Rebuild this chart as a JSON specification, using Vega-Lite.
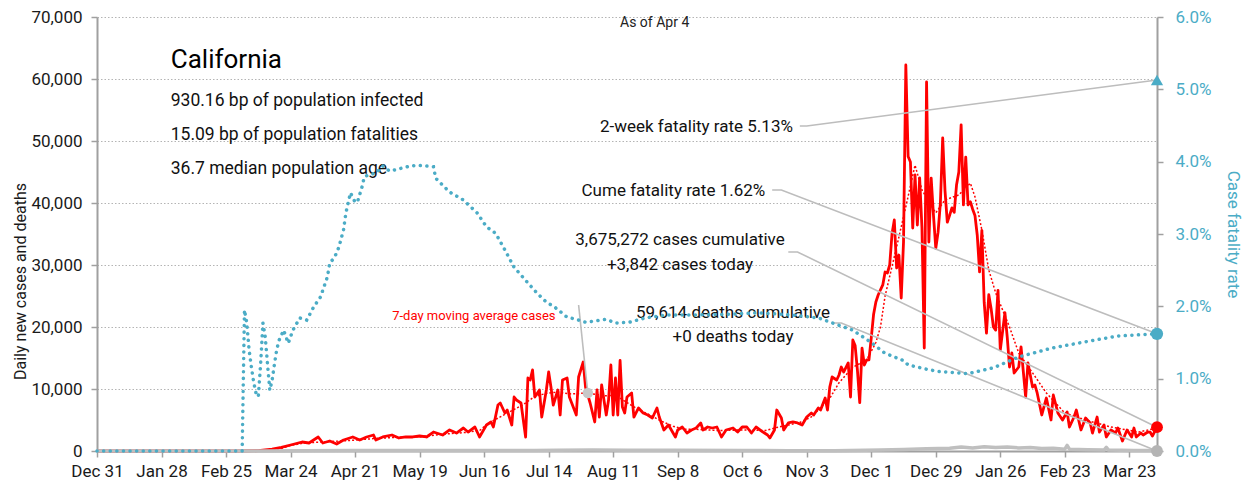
{
"$schema": "https://vega.github.io/schema/vega-lite/v6.json",
"width": 1060,
"height": 434,
"autosize": {"type": "none"},
"padding": {"left": 97, "top": 17, "right": 87, "bottom": 40},
"background": "white",
"config": {
  "view": {"stroke": null},
  "font": "Roboto, Liberation Sans, sans-serif",
  "axis": {"labelFont": "Roboto, Liberation Sans, sans-serif", "titleFont": "Roboto, Liberation Sans, sans-serif", "labelFontSize": 17, "titleFontSize": 16, "titleFontWeight": "normal", "labelColor": "#1a1a1a", "titleColor": "#1a1a1a", "domainColor": "#a0a0a0", "tickColor": "#a0a0a0", "domainWidth": 2, "tickWidth": 1.5, "tickSize": 6, "labelOverlap": false, "labelFlush": false},
  "axisBottom": {"grid": false, "labelPadding": 6},
  "axisLeft": {"grid": true, "gridColor": "#b4b4b4", "gridDash": [1.5, 2], "gridWidth": 1, "labelPadding": 9},
  "axisRight": {"grid": false, "labelColor": "#4BACC6", "titleColor": "#4BACC6", "labelPadding": 12, "titleFontSize": 17}
},
"datasets": {
  "cases": [
    {"date":"2019-12-31","value":0},{"date":"2020-01-20","value":0},{"date":"2020-02-09","value":0},{"date":"2020-02-29","value":0},
    {"date":"2020-03-10","value":50},{"date":"2020-03-16","value":300},{"date":"2020-03-20","value":600},{"date":"2020-03-24","value":970},
    {"date":"2020-03-29","value":1450},{"date":"2020-04-01","value":1290},{"date":"2020-04-05","value":2260},{"date":"2020-04-07","value":1290},
    {"date":"2020-04-10","value":1610},{"date":"2020-04-13","value":1130},{"date":"2020-04-16","value":1770},{"date":"2020-04-20","value":2260},
    {"date":"2020-04-23","value":1770},{"date":"2020-04-26","value":2260},{"date":"2020-04-29","value":2580},{"date":"2020-04-30","value":1770},
    {"date":"2020-05-03","value":2260},{"date":"2020-05-07","value":2580},{"date":"2020-05-10","value":2100},{"date":"2020-05-13","value":2260},
    {"date":"2020-05-16","value":2260},{"date":"2020-05-19","value":2420},{"date":"2020-05-22","value":2260},{"date":"2020-05-25","value":3060},
    {"date":"2020-05-29","value":2580},{"date":"2020-06-01","value":3390},{"date":"2020-06-04","value":2900},{"date":"2020-06-07","value":3710},
    {"date":"2020-06-09","value":3060},{"date":"2020-06-12","value":3870},{"date":"2020-06-14","value":2260},{"date":"2020-06-17","value":4190},
    {"date":"2020-06-19","value":4680},{"date":"2020-06-20","value":3870},{"date":"2020-06-22","value":7420},{"date":"2020-06-23","value":7740},
    {"date":"2020-06-25","value":6130},{"date":"2020-06-26","value":6610},{"date":"2020-06-28","value":4190},{"date":"2020-06-29","value":8710},
    {"date":"2020-06-30","value":8230},{"date":"2020-07-02","value":7740},{"date":"2020-07-04","value":2260},{"date":"2020-07-05","value":11780},
    {"date":"2020-07-06","value":11450},{"date":"2020-07-07","value":13070},{"date":"2020-07-08","value":8710},{"date":"2020-07-10","value":9840},
    {"date":"2020-07-11","value":5480},{"date":"2020-07-13","value":9840},{"date":"2020-07-14","value":12740},{"date":"2020-07-15","value":10320},
    {"date":"2020-07-16","value":7420},{"date":"2020-07-18","value":9840},{"date":"2020-07-19","value":5810},{"date":"2020-07-20","value":11450},
    {"date":"2020-07-22","value":11780},{"date":"2020-07-23","value":8710},{"date":"2020-07-24","value":7740},{"date":"2020-07-26","value":5810},
    {"date":"2020-07-27","value":11940},{"date":"2020-07-29","value":14360},{"date":"2020-07-30","value":10320},{"date":"2020-08-01","value":7740},
    {"date":"2020-08-03","value":4680},{"date":"2020-08-04","value":9840},{"date":"2020-08-05","value":5480},{"date":"2020-08-06","value":10650},
    {"date":"2020-08-08","value":5810},{"date":"2020-08-09","value":8230},{"date":"2020-08-10","value":13870},{"date":"2020-08-11","value":5810},
    {"date":"2020-08-12","value":11780},{"date":"2020-08-13","value":5810},{"date":"2020-08-14","value":14600},{"date":"2020-08-15","value":7100},
    {"date":"2020-08-16","value":6130},{"date":"2020-08-17","value":8710},{"date":"2020-08-19","value":9360},{"date":"2020-08-20","value":5480},
    {"date":"2020-08-22","value":6940},{"date":"2020-08-24","value":6130},{"date":"2020-08-26","value":5810},{"date":"2020-08-28","value":5320},
    {"date":"2020-08-30","value":6940},{"date":"2020-08-31","value":5480},{"date":"2020-09-02","value":3390},{"date":"2020-09-04","value":4190},
    {"date":"2020-09-07","value":2260},{"date":"2020-09-08","value":3390},{"date":"2020-09-10","value":3870},{"date":"2020-09-12","value":2900},
    {"date":"2020-09-14","value":3390},{"date":"2020-09-16","value":3710},{"date":"2020-09-18","value":4520},{"date":"2020-09-19","value":3390},
    {"date":"2020-09-21","value":3870},{"date":"2020-09-23","value":3710},{"date":"2020-09-25","value":3870},{"date":"2020-09-27","value":2260},
    {"date":"2020-09-29","value":3390},{"date":"2020-10-02","value":3710},{"date":"2020-10-04","value":3060},{"date":"2020-10-06","value":3870},
    {"date":"2020-10-08","value":3870},{"date":"2020-10-10","value":2900},{"date":"2020-10-12","value":3870},{"date":"2020-10-15","value":3060},
    {"date":"2020-10-17","value":2580},{"date":"2020-10-18","value":2100},{"date":"2020-10-20","value":3390},{"date":"2020-10-21","value":6610},
    {"date":"2020-10-23","value":5320},{"date":"2020-10-24","value":3390},{"date":"2020-10-26","value":4520},{"date":"2020-10-28","value":4680},
    {"date":"2020-10-30","value":4520},{"date":"2020-11-01","value":4190},{"date":"2020-11-03","value":5480},{"date":"2020-11-05","value":6130},
    {"date":"2020-11-06","value":5810},{"date":"2020-11-08","value":6940},{"date":"2020-11-09","value":6610},{"date":"2020-11-11","value":8550},
    {"date":"2020-11-12","value":6610},{"date":"2020-11-13","value":10320},{"date":"2020-11-14","value":11940},{"date":"2020-11-16","value":11450},
    {"date":"2020-11-17","value":12260},{"date":"2020-11-18","value":13550},{"date":"2020-11-19","value":12740},{"date":"2020-11-21","value":14200},
    {"date":"2020-11-22","value":8710},{"date":"2020-11-23","value":17900},{"date":"2020-11-24","value":17000},{"date":"2020-11-25","value":13000},
    {"date":"2020-11-26","value":7800},{"date":"2020-11-27","value":16600},{"date":"2020-11-28","value":13870},{"date":"2020-11-29","value":14680},
    {"date":"2020-11-30","value":14700},{"date":"2020-12-01","value":18230},{"date":"2020-12-02","value":22000},{"date":"2020-12-03","value":24040},
    {"date":"2020-12-04","value":25160},{"date":"2020-12-05","value":26000},{"date":"2020-12-06","value":26780},{"date":"2020-12-07","value":28870},
    {"date":"2020-12-08","value":28710},{"date":"2020-12-09","value":30000},{"date":"2020-12-10","value":35000},{"date":"2020-12-11","value":37260},
    {"date":"2020-12-12","value":29520},{"date":"2020-12-13","value":31610},{"date":"2020-12-14","value":24680},{"date":"2020-12-15","value":33710},
    {"date":"2020-12-16","value":62260},{"date":"2020-12-17","value":47500},{"date":"2020-12-18","value":46620},{"date":"2020-12-19","value":35970},
    {"date":"2020-12-20","value":44520},{"date":"2020-12-21","value":36450},{"date":"2020-12-22","value":44040},{"date":"2020-12-23","value":36000},
    {"date":"2020-12-24","value":16610},{"date":"2020-12-25","value":59520},{"date":"2020-12-26","value":33700},{"date":"2020-12-27","value":44000},
    {"date":"2020-12-28","value":38000},{"date":"2020-12-29","value":32700},{"date":"2020-12-30","value":35300},{"date":"2020-12-31","value":40000},
    {"date":"2021-01-01","value":50500},{"date":"2021-01-02","value":42000},{"date":"2021-01-03","value":36900},{"date":"2021-01-04","value":38000},
    {"date":"2021-01-05","value":39200},{"date":"2021-01-06","value":38500},{"date":"2021-01-07","value":42900},{"date":"2021-01-08","value":45000},
    {"date":"2021-01-09","value":52600},{"date":"2021-01-10","value":39700},{"date":"2021-01-11","value":47400},{"date":"2021-01-12","value":39700},
    {"date":"2021-01-13","value":40200},{"date":"2021-01-14","value":39000},{"date":"2021-01-15","value":38000},{"date":"2021-01-16","value":34800},
    {"date":"2021-01-17","value":28900},{"date":"2021-01-18","value":35600},{"date":"2021-01-19","value":24000},{"date":"2021-01-20","value":19000},
    {"date":"2021-01-21","value":25200},{"date":"2021-01-22","value":23000},{"date":"2021-01-23","value":20000},{"date":"2021-01-24","value":19500},
    {"date":"2021-01-25","value":25900},{"date":"2021-01-26","value":16300},{"date":"2021-01-28","value":22300},{"date":"2021-01-29","value":18400},
    {"date":"2021-01-30","value":13550},{"date":"2021-01-31","value":15810},{"date":"2021-02-01","value":12580},{"date":"2021-02-03","value":13550},
    {"date":"2021-02-04","value":16780},{"date":"2021-02-06","value":8710},{"date":"2021-02-07","value":14200},{"date":"2021-02-09","value":10320},
    {"date":"2021-02-10","value":10650},{"date":"2021-02-11","value":9360},{"date":"2021-02-13","value":5810},{"date":"2021-02-15","value":8550},
    {"date":"2021-02-17","value":5000},{"date":"2021-02-18","value":9030},{"date":"2021-02-20","value":6130},{"date":"2021-02-22","value":5000},
    {"date":"2021-02-24","value":6290},{"date":"2021-02-25","value":3870},{"date":"2021-02-27","value":5480},{"date":"2021-02-28","value":6610},
    {"date":"2021-03-02","value":3390},{"date":"2021-03-04","value":5320},{"date":"2021-03-06","value":4520},{"date":"2021-03-07","value":2900},
    {"date":"2021-03-09","value":5480},{"date":"2021-03-10","value":3060},{"date":"2021-03-12","value":4190},{"date":"2021-03-13","value":2260},
    {"date":"2021-03-15","value":3390},{"date":"2021-03-17","value":2900},{"date":"2021-03-18","value":3710},{"date":"2021-03-20","value":1610},
    {"date":"2021-03-22","value":3390},{"date":"2021-03-24","value":2260},{"date":"2021-03-25","value":3710},{"date":"2021-03-26","value":2260},
    {"date":"2021-03-28","value":2900},{"date":"2021-03-29","value":2580},{"date":"2021-03-31","value":3060},{"date":"2021-04-01","value":3060},
    {"date":"2021-04-02","value":2400},{"date":"2021-04-04","value":3842}
  ],
  "ma": [
    {"date":"2019-12-31","value":0},{"date":"2020-02-29","value":0},{"date":"2020-03-10","value":20},{"date":"2020-03-20","value":400},
    {"date":"2020-03-24","value":900},{"date":"2020-03-30","value":1300},{"date":"2020-04-09","value":1500},{"date":"2020-04-19","value":1700},
    {"date":"2020-04-29","value":2000},{"date":"2020-05-09","value":2200},{"date":"2020-05-19","value":2300},{"date":"2020-05-29","value":2700},
    {"date":"2020-06-08","value":3000},{"date":"2020-06-14","value":3300},{"date":"2020-06-18","value":4500},{"date":"2020-06-23","value":5500},
    {"date":"2020-06-28","value":6500},{"date":"2020-07-03","value":7500},{"date":"2020-07-08","value":8800},{"date":"2020-07-13","value":9300},
    {"date":"2020-07-18","value":9500},{"date":"2020-07-23","value":9200},{"date":"2020-07-31","value":9355},{"date":"2020-08-07","value":8900},
    {"date":"2020-08-12","value":9000},{"date":"2020-08-17","value":7800},{"date":"2020-08-22","value":6700},{"date":"2020-08-27","value":5800},
    {"date":"2020-09-01","value":4800},{"date":"2020-09-06","value":4000},{"date":"2020-09-11","value":3500},{"date":"2020-09-16","value":3500},
    {"date":"2020-09-26","value":3300},{"date":"2020-10-06","value":3400},{"date":"2020-10-16","value":3300},{"date":"2020-10-21","value":3800},
    {"date":"2020-10-26","value":4200},{"date":"2020-10-31","value":4600},{"date":"2020-11-05","value":5500},{"date":"2020-11-08","value":6600},
    {"date":"2020-11-13","value":8500},{"date":"2020-11-17","value":11000},{"date":"2020-11-23","value":13500},{"date":"2020-11-29","value":14700},
    {"date":"2020-12-03","value":17500},{"date":"2020-12-05","value":20000},{"date":"2020-12-07","value":25000},{"date":"2020-12-12","value":32900},
    {"date":"2020-12-16","value":39400},{"date":"2020-12-20","value":46100},{"date":"2020-12-23","value":42100},{"date":"2020-12-29","value":38400},
    {"date":"2021-01-02","value":40500},{"date":"2021-01-08","value":41300},{"date":"2021-01-13","value":43200},{"date":"2021-01-15","value":41000},
    {"date":"2021-01-18","value":35650},{"date":"2021-01-21","value":29200},{"date":"2021-01-24","value":25500},{"date":"2021-01-30","value":20000},
    {"date":"2021-02-03","value":15800},{"date":"2021-02-09","value":12600},{"date":"2021-02-15","value":9360},{"date":"2021-02-23","value":6130},
    {"date":"2021-03-04","value":5000},{"date":"2021-03-15","value":3870},{"date":"2021-03-27","value":3060},{"date":"2021-04-04","value":3700}
  ],
  "deaths": [
    {"date":"2019-12-31","value":0},{"date":"2020-02-29","value":0},{"date":"2020-03-15","value":20},{"date":"2020-03-30","value":60},
    {"date":"2020-04-19","value":90},{"date":"2020-05-19","value":80},{"date":"2020-06-18","value":70},{"date":"2020-07-08","value":100},
    {"date":"2020-07-18","value":130},{"date":"2020-08-02","value":150},{"date":"2020-08-17","value":130},{"date":"2020-09-06","value":110},
    {"date":"2020-10-06","value":70},{"date":"2020-10-26","value":50},{"date":"2020-11-15","value":60},{"date":"2020-12-05","value":150},
    {"date":"2020-12-15","value":250},{"date":"2020-12-25","value":350},{"date":"2021-01-04","value":450},{"date":"2021-01-09","value":650},
    {"date":"2021-01-14","value":500},{"date":"2021-01-19","value":700},{"date":"2021-01-24","value":550},{"date":"2021-01-29","value":650},
    {"date":"2021-02-03","value":500},{"date":"2021-02-08","value":550},{"date":"2021-02-13","value":400},{"date":"2021-02-18","value":450},
    {"date":"2021-02-23","value":300},{"date":"2021-02-24","value":900},{"date":"2021-02-25","value":300},{"date":"2021-03-05","value":200},
    {"date":"2021-03-12","value":150},{"date":"2021-03-13","value":600},{"date":"2021-03-14","value":150},{"date":"2021-03-25","value":100},
    {"date":"2021-04-03","value":80},{"date":"2021-04-04","value":0}
  ],
  "cfr": [
    {"date":"2019-12-31","rate":0},{"date":"2020-03-03","rate":0},{"date":"2020-03-04","rate":0.0195},{"date":"2020-03-05","rate":0.0177},
    {"date":"2020-03-06","rate":0.0140},{"date":"2020-03-07","rate":0.0116},{"date":"2020-03-08","rate":0.0095},{"date":"2020-03-09","rate":0.0080},
    {"date":"2020-03-10","rate":0.0075},{"date":"2020-03-11","rate":0.0120},{"date":"2020-03-12","rate":0.0177},{"date":"2020-03-13","rate":0.0158},
    {"date":"2020-03-14","rate":0.0120},{"date":"2020-03-15","rate":0.0084},{"date":"2020-03-16","rate":0.0098},{"date":"2020-03-17","rate":0.0120},
    {"date":"2020-03-18","rate":0.0140},{"date":"2020-03-19","rate":0.0153},{"date":"2020-03-21","rate":0.0167},{"date":"2020-03-23","rate":0.0149},
    {"date":"2020-03-25","rate":0.0167},{"date":"2020-03-28","rate":0.0184},{"date":"2020-03-31","rate":0.0181},{"date":"2020-04-03","rate":0.0199},
    {"date":"2020-04-06","rate":0.0213},{"date":"2020-04-09","rate":0.0241},{"date":"2020-04-10","rate":0.0260},{"date":"2020-04-12","rate":0.0267},
    {"date":"2020-04-14","rate":0.0282},{"date":"2020-04-16","rate":0.0306},{"date":"2020-04-17","rate":0.0329},{"date":"2020-04-19","rate":0.0357},
    {"date":"2020-04-21","rate":0.0344},{"date":"2020-04-22","rate":0.0344},{"date":"2020-04-24","rate":0.0365},{"date":"2020-04-25","rate":0.0379},
    {"date":"2020-04-27","rate":0.0382},{"date":"2020-04-30","rate":0.0384},{"date":"2020-05-03","rate":0.0394},{"date":"2020-05-06","rate":0.0387},
    {"date":"2020-05-10","rate":0.0390},{"date":"2020-05-15","rate":0.0394},{"date":"2020-05-18","rate":0.0395},{"date":"2020-05-22","rate":0.0394},
    {"date":"2020-05-25","rate":0.0393},{"date":"2020-05-26","rate":0.0377},{"date":"2020-06-01","rate":0.0358},{"date":"2020-06-07","rate":0.0347},
    {"date":"2020-06-13","rate":0.0329},{"date":"2020-06-17","rate":0.0310},{"date":"2020-06-21","rate":0.0301},{"date":"2020-06-25","rate":0.0278},
    {"date":"2020-06-29","rate":0.0254},{"date":"2020-07-04","rate":0.0236},{"date":"2020-07-09","rate":0.0218},{"date":"2020-07-13","rate":0.0206},
    {"date":"2020-07-17","rate":0.0198},{"date":"2020-07-22","rate":0.0185},{"date":"2020-07-26","rate":0.0182},{"date":"2020-07-30","rate":0.0178},
    {"date":"2020-08-08","rate":0.0182},{"date":"2020-08-12","rate":0.0177},{"date":"2020-08-18","rate":0.0178},{"date":"2020-08-25","rate":0.0184},
    {"date":"2020-09-03","rate":0.0188},{"date":"2020-09-14","rate":0.0188},{"date":"2020-09-29","rate":0.0189},{"date":"2020-10-13","rate":0.0191},
    {"date":"2020-10-28","rate":0.0188},{"date":"2020-11-08","rate":0.0184},{"date":"2020-11-15","rate":0.0176},{"date":"2020-11-23","rate":0.0167},
    {"date":"2020-12-01","rate":0.0150},{"date":"2020-12-07","rate":0.0135},{"date":"2020-12-15","rate":0.0125},{"date":"2020-12-17","rate":0.0119},
    {"date":"2020-12-25","rate":0.0113},{"date":"2020-12-30","rate":0.0110},{"date":"2021-01-12","rate":0.0107},{"date":"2021-01-23","rate":0.0115},
    {"date":"2021-02-03","rate":0.0130},{"date":"2021-02-17","rate":0.0142},{"date":"2021-03-04","rate":0.0151},{"date":"2021-03-18","rate":0.0159},
    {"date":"2021-04-04","rate":0.0162}
  ],
  "leaders": [
    {"g":"fr2w","date":"2020-10-31","value":52420},{"g":"fr2w","date":"2020-11-03","value":52420},{"g":"fr2w","date":"2021-04-04","value":59850},
    {"g":"cume","date":"2020-10-19","value":42100},{"g":"cume","date":"2020-10-23","value":42100},{"g":"cume","date":"2021-04-04","value":18900},
    {"g":"cases","date":"2020-10-26","value":32100},{"g":"cases","date":"2020-10-30","value":32100},{"g":"cases","date":"2021-04-04","value":3842},
    {"g":"deaths","date":"2020-11-14","value":20650},{"g":"deaths","date":"2020-11-18","value":20650},{"g":"deaths","date":"2021-04-04","value":0},
    {"g":"ma","date":"2020-07-27","value":23550},{"g":"ma","date":"2020-07-31","value":9355}
  ],
  "notes": [
    {"kind":"title","date":"2020-02-01","value":63070,"text":"California"},
    {"kind":"stat","date":"2020-02-01","value":56460,"text":"930.16 bp of population infected"},
    {"kind":"stat","date":"2020-02-01","value":50970,"text":"15.09 bp of population fatalities"},
    {"kind":"stat","date":"2020-02-01","value":45490,"text":"36.7 median population age"},
    {"kind":"asof","date":"2020-08-29","value":69040,"text":"As of Apr 4"},
    {"kind":"right","date":"2020-10-28","value":52260,"text":"2-week fatality rate 5.13%"},
    {"kind":"right","date":"2020-10-16","value":41940,"text":"Cume fatality rate 1.62%"},
    {"kind":"center","date":"2020-09-09","value":34030,"text":"3,675,272 cases cumulative"},
    {"kind":"center","date":"2020-09-09","value":30000,"text":"+3,842 cases today"},
    {"kind":"center","date":"2020-10-02","value":22260,"text":"59,614 deaths cumulative"},
    {"kind":"center","date":"2020-10-02","value":18390,"text":"+0 deaths today"},
    {"kind":"ma","date":"2020-07-17","value":21780,"text":"7-day moving average cases"}
  ],
  "endCases": [{"date":"2021-04-04","value":3842}],
  "endDeaths": [{"date":"2021-04-04","value":0}],
  "maPoint": [{"date":"2020-07-31","value":9355}],
  "endRates": [{"date":"2021-04-04","rate":0.0513,"kind":"2-week"},{"date":"2021-04-04","rate":0.0162,"kind":"cume"}]
},
"layer": [
  {
    "encoding": {
      "x": {"field": "date", "type": "temporal", "title": null,
            "scale": {"type": "utc", "domain": [{"year":2019,"month":12,"date":31,"utc":true},{"year":2021,"month":4,"date":4,"utc":true}]},
            "axis": {"orient": "bottom", "format": "%b %-d", "labelFlush": false,
                     "values": [{"year":2019,"month":12,"date":31,"utc":true},{"year":2020,"month":1,"date":28,"utc":true},{"year":2020,"month":2,"date":25,"utc":true},{"year":2020,"month":3,"date":24,"utc":true},{"year":2020,"month":4,"date":21,"utc":true},{"year":2020,"month":5,"date":19,"utc":true},{"year":2020,"month":6,"date":16,"utc":true},{"year":2020,"month":7,"date":14,"utc":true},{"year":2020,"month":8,"date":11,"utc":true},{"year":2020,"month":9,"date":8,"utc":true},{"year":2020,"month":10,"date":6,"utc":true},{"year":2020,"month":11,"date":3,"utc":true},{"year":2020,"month":12,"date":1,"utc":true},{"year":2020,"month":12,"date":29,"utc":true},{"year":2021,"month":1,"date":26,"utc":true},{"year":2021,"month":2,"date":23,"utc":true},{"year":2021,"month":3,"date":23,"utc":true}]}},
      "y": {"field": "value", "type": "quantitative", "title": "Daily new cases and deaths", "scale": {"domain": [0, 70000]},
            "axis": {"orient": "left", "format": ",.0f", "values": [0,10000,20000,30000,40000,50000,60000,70000], "titleX": -77, "titleY": 264, "titleBaseline": "middle", "titleAlign": "center"}}
    },
    "layer": [
      {"data": {"name": "cases"}, "mark": {"type": "line", "color": "#ff0000", "strokeWidth": 2.8, "strokeJoin": "round"}},
      {"data": {"name": "ma"}, "mark": {"type": "line", "color": "#ff0000", "strokeWidth": 1.5, "strokeDash": [2, 2]}},
      {"data": {"name": "deaths"}, "mark": {"type": "line", "color": "#bfbfbf", "strokeWidth": 3.5, "strokeJoin": "round"}},
      {"data": {"name": "leaders"}, "mark": {"type": "line", "color": "#bdbdbd", "strokeWidth": 1.6}, "encoding": {"detail": {"field": "g"}}},
      {"data": {"name": "maPoint"}, "mark": {"type": "point", "filled": true, "color": "#c8c8c8", "opacity": 1, "size": 110}},
      {"data": {"name": "endCases"}, "mark": {"type": "point", "filled": true, "color": "#ff0000", "opacity": 1, "size": 140}},
      {"data": {"name": "endDeaths"}, "mark": {"type": "point", "filled": true, "color": "#b4b4b4", "opacity": 1, "size": 140}},
      {"data": {"name": "notes"}, "transform": [{"filter": "datum.kind === 'title'"}],
       "mark": {"type": "text", "align": "left", "baseline": "middle", "fontSize": 26, "color": "#000"},
       "encoding": {"text": {"field": "text"}}},
      {"data": {"name": "notes"}, "transform": [{"filter": "datum.kind === 'stat'"}],
       "mark": {"type": "text", "align": "left", "baseline": "middle", "fontSize": 17.5, "color": "#111"},
       "encoding": {"text": {"field": "text"}}},
      {"data": {"name": "notes"}, "transform": [{"filter": "datum.kind === 'asof'"}],
       "mark": {"type": "text", "align": "center", "baseline": "middle", "fontSize": 14, "color": "#222"},
       "encoding": {"text": {"field": "text"}}},
      {"data": {"name": "notes"}, "transform": [{"filter": "datum.kind === 'right'"}],
       "mark": {"type": "text", "align": "right", "baseline": "middle", "fontSize": 17, "color": "#111"},
       "encoding": {"text": {"field": "text"}}},
      {"data": {"name": "notes"}, "transform": [{"filter": "datum.kind === 'center'"}],
       "mark": {"type": "text", "align": "center", "baseline": "middle", "fontSize": 17, "color": "#111"},
       "encoding": {"text": {"field": "text"}}},
      {"data": {"name": "notes"}, "transform": [{"filter": "datum.kind === 'ma'"}],
       "mark": {"type": "text", "align": "right", "baseline": "middle", "fontSize": 13, "color": "#ff0000"},
       "encoding": {"text": {"field": "text"}}}
    ]
  },
  {
    "encoding": {
      "x": {"field": "date", "type": "temporal", "title": null,
            "scale": {"type": "utc", "domain": [{"year":2019,"month":12,"date":31,"utc":true},{"year":2021,"month":4,"date":4,"utc":true}]},
            "axis": {"orient": "bottom", "format": "%b %-d", "labelFlush": false,
                     "values": [{"year":2019,"month":12,"date":31,"utc":true},{"year":2020,"month":1,"date":28,"utc":true},{"year":2020,"month":2,"date":25,"utc":true},{"year":2020,"month":3,"date":24,"utc":true},{"year":2020,"month":4,"date":21,"utc":true},{"year":2020,"month":5,"date":19,"utc":true},{"year":2020,"month":6,"date":16,"utc":true},{"year":2020,"month":7,"date":14,"utc":true},{"year":2020,"month":8,"date":11,"utc":true},{"year":2020,"month":9,"date":8,"utc":true},{"year":2020,"month":10,"date":6,"utc":true},{"year":2020,"month":11,"date":3,"utc":true},{"year":2020,"month":12,"date":1,"utc":true},{"year":2020,"month":12,"date":29,"utc":true},{"year":2021,"month":1,"date":26,"utc":true},{"year":2021,"month":2,"date":23,"utc":true},{"year":2021,"month":3,"date":23,"utc":true}]}},
      "y": {"field": "rate", "type": "quantitative", "title": "Case fatality rate", "scale": {"domain": [0, 0.06]},
            "axis": {"orient": "right", "format": ".1%", "values": [0,0.01,0.02,0.03,0.04,0.05,0.06], "titlePadding": 12}}
    },
    "layer": [
      {"data": {"name": "cfr"}, "mark": {"type": "line", "color": "#4BACC6", "strokeWidth": 3.5, "strokeDash": [0.1, 6.5], "strokeCap": "round"}},
      {"data": {"name": "endRates"}, "transform": [{"filter": "datum.kind === '2-week'"}],
       "mark": {"type": "point", "shape": "triangle-up", "filled": true, "color": "#4BACC6", "opacity": 1, "size": 150}},
      {"data": {"name": "endRates"}, "transform": [{"filter": "datum.kind === 'cume'"}],
       "mark": {"type": "point", "filled": true, "color": "#4BACC6", "opacity": 1, "size": 150}}
    ]
  }
],
"resolve": {"scale": {"y": "independent"}}
}
